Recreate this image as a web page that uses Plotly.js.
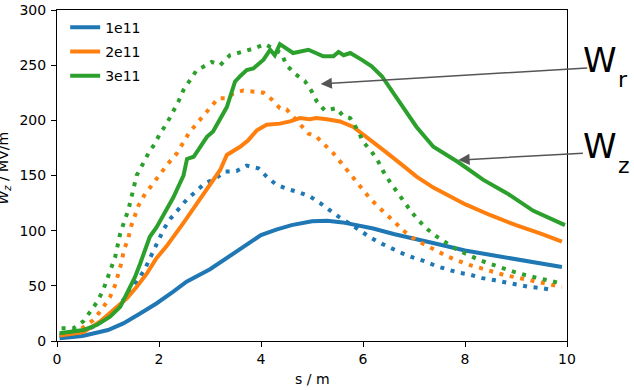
<!DOCTYPE html>
<html>
<head>
<meta charset="utf-8">
<script src="https://cdn.plot.ly/plotly-3.0.1.min.js"></script>
<style>html,body{margin:0;padding:0;background:#fff;}#chart{width:634px;height:390px;}</style>
</head>
<body>
<div id="chart"></div>
<script>
// ---- data (s in m, W in MV/m) ----
const legendLabels = ["1e11", "2e11", "3e11"];
const colors = ["#1f77b4", "#ff7f0e", "#2ca02c"];

// Wz (solid)
const sWz1 = [0.05,0.5,1,1.3,1.63,1.95,2.28,2.54,3,3.3,3.6,3.8,4,4.3,4.6,5,5.3,5.6,5.9,6.2,6.6,7,7.5,8,8.5,9,9.5,9.9];
const Wz1  = [2.5,4.5,10,16,25,34,44.7,53.7,65,74,83,90,96,101,105,108.5,109,107.5,105,102,97,93,87.5,82,78,74,70.5,67];

const sWz2 = [0.05,0.52,0.84,1.1,1.37,1.56,1.76,1.95,2.15,2.48,2.8,3.06,3.2,3.33,3.59,3.75,3.92,4.11,4.37,4.57,4.76,4.96,5.08,5.29,5.55,5.81,6.07,6.4,6.73,7.05,7.38,7.7,8,8.5,9,9.5,9.9];
const Wz2  = [5,8,17.5,28,38.7,49,61,75,86,107,128,146,155,168.6,176,182,191,196,197,199,202,201,202,201,199,194,185,173,161,149,139,131,124,114,105,97,90];

const sWz3 = [0.05,0.52,0.78,1.04,1.24,1.4,1.53,1.63,1.82,1.95,2.15,2.28,2.41,2.48,2.55,2.68,2.94,3.06,3.33,3.49,3.59,3.72,3.85,4.05,4.18,4.27,4.37,4.63,4.93,5.09,5.22,5.42,5.52,5.62,5.75,5.97,6.17,6.37,6.73,7.05,7.38,7.87,8.36,8.82,9.34,9.96];
const Wz3  = [7,10,14.5,22,31,45,58,70,94.5,103,120,130,143,150,165,167,185,190,212,235,240,245.6,247,255,264,259,269,261,264,261,258,258,262,259,261,255,249,240,215,194,176,162,146,134,118,105];

// Wr (dotted)
const sWr1 = [0.05,0.5,0.78,0.97,1.14,1.43,1.56,1.71,1.9,2.0,2.1,2.22,2.38,2.54,2.71,2.9,3.1,3.29,3.52,3.72,3.95,4.11,4.29,4.5,4.73,4.96,5.16,5.35,5.52,5.75,5.93,6.14,6.33,6.55,6.77,6.99,7.2,7.43,7.65,7.87,8.11,8.34,8.59,8.82,9.05,9.27,9.5,9.75];
const Wr1  = [5,8,14.5,20.5,28,44.7,53.7,64,82.5,92,102,110.6,119.6,128,135,143,147,153.5,154,159,156.5,149,142,138,135,131,125,118,112.7,106,100,94,89,84,79.5,75.5,72.5,68,65,62,60,57,55,53,51,49,48,46];

const sWr2 = [0.09,0.32,0.52,0.71,0.88,1.04,1.14,1.2,1.27,1.31,1.39,1.45,1.53,1.6,1.71,1.82,2.02,2.18,2.35,2.46,2.58,2.74,2.88,3.03,3.16,3.33,3.46,3.65,3.85,4.05,4.21,4.37,4.5,4.76,4.93,5.09,5.25,5.42,5.58,5.71,5.84,5.97,6.14,6.3,6.48,6.64,6.82,7.02,7.22,7.43,7.64,7.86,8.08,8.31,8.54,8.77,9.0,9.23,9.46,9.68,9.9];
const Wr2  = [6,7,12.4,19,28.7,40,50.8,61,72,82.5,91.5,103.6,112.7,123,132,139,152,161,170,179,188,197,205,213,220,220,224.5,227,226,225,219,211,210,197,188,185,177.6,170,161,153.5,146,138,129,121.7,114,106.6,99,92,87,81.8,77,72.8,69,66,62.8,59.8,57.7,55.3,53,50.8,49];

const sWr3 = [0.09,0.32,0.52,0.66,0.79,0.9,0.97,1.07,1.14,1.24,1.31,1.4,1.5,1.56,1.69,1.79,1.92,2.02,2.15,2.28,2.38,2.48,2.61,2.74,2.87,3.03,3.2,3.39,3.62,3.85,4.08,4.4,4.5,4.67,4.86,4.99,5.09,5.25,5.48,5.61,5.75,5.91,6.0,6.17,6.3,6.4,6.53,6.67,6.8,6.95,7.1,7.27,7.45,7.64,7.85,8.07,8.28,8.5,8.72,8.95,9.18,9.4,9.63,9.88];
const Wr3  = [11.5,11.5,18,26.6,35.6,45.6,55,66,76,97.6,108,119,138,150,161,170,179,188,197,208,217,227.5,236.6,245.6,248.6,253,250,259,262,265,269,260.7,250,242,235.6,226.6,217.5,209,211,204,202,190,180.6,171.6,162.5,153.5,144,135,126,117,108.8,101,94.5,88.5,82.5,78,73.4,69.8,66,62.8,59.8,57.4,55.3,52.3];

const xTicks = [0, 2, 4, 6, 8, 10];
const yTicks = [0, 50, 100, 150, 200, 250, 300];

// ---- traces ----
const solidS = [sWz1, sWz2, sWz3], solidW = [Wz1, Wz2, Wz3];
const dotS = [sWr1, sWr2, sWr3], dotW = [Wr1, Wr2, Wr3];
const traces = [];
for (let i = 0; i < 3; i++) {
  traces.push({x: solidS[i], y: solidW[i], type: "scatter", mode: "lines", name: legendLabels[i],
    legendgroup: "g" + i, line: {color: colors[i], width: 4}, showlegend: true});
  traces.push({x: dotS[i], y: dotW[i], type: "scatter", mode: "lines", name: legendLabels[i] + " Wr",
    legendgroup: "g" + i, line: {color: colors[i], width: 4, dash: "4px,6.6px"}, showlegend: false});
}

const FONT = "DejaVu Sans";
const layout = {
  width: 634, height: 390,
  margin: {l: 57, r: 67, t: 10, b: 49, pad: 0},
  paper_bgcolor: "#fff", plot_bgcolor: "#fff",
  font: {family: FONT, size: 14, color: "#000"},
  showlegend: true,
  legend: {x: 0.016, y: 0.995, xanchor: "left", yanchor: "top", bgcolor: "rgba(0,0,0,0)",
    borderwidth: 0, tracegroupgap: 3, font: {family: FONT, size: 14, color: "#000"}},
  xaxis: {range: [0, 10], tickvals: xTicks, ticktext: xTicks.map(String), showgrid: false, zeroline: false,
    showline: true, mirror: true, linecolor: "#000", linewidth: 1,
    ticks: "outside", ticklen: 5, tickwidth: 1, tickcolor: "#000",
    tickfont: {family: FONT, size: 14, color: "#000"}},
  yaxis: {range: [0, 300], tickvals: yTicks, ticktext: yTicks.map(String), showgrid: false, zeroline: false,
    showline: true, mirror: true, linecolor: "#000", linewidth: 1,
    ticks: "outside", ticklen: 5, tickwidth: 1, tickcolor: "#000", ticklabelstandoff: 2,
    tickfont: {family: FONT, size: 14, color: "#000"}},
  annotations: [
    {xref: "paper", yref: "paper", x: 0.5, y: -0.115, xanchor: "center", yanchor: "middle",
      text: "s / m", showarrow: false, font: {family: FONT, size: 14, color: "#000"}},
    {xref: "paper", yref: "paper", x: -0.104, y: 0.524, xanchor: "center", yanchor: "middle",
      textangle: -90, text: "<i>W</i><sub><i>z</i></sub> / MV/m", showarrow: false,
      font: {family: FONT, size: 14, color: "#000"}},
    // arrows
    {xref: "x", yref: "y", x: 5.17, y: 233, ax: 268, ay: -16, text: "", showarrow: true,
      arrowhead: 2, arrowsize: 1.5, arrowwidth: 1.5, arrowcolor: "#555"},
    {xref: "x", yref: "y", x: 7.87, y: 164, ax: 126, ay: -7, text: "", showarrow: true,
      arrowhead: 2, arrowsize: 1.5, arrowwidth: 1.5, arrowcolor: "#555"},
    // labels W_r, W_z (main letter + lowered subscript)
    {xref: "paper", yref: "paper", x: 1.0275, y: 0.848, xanchor: "left", yanchor: "middle",
      text: "W", showarrow: false, font: {family: FONT, size: 34, color: "#000"}},
    {xref: "paper", yref: "paper", x: 1.096, y: 0.790, xanchor: "left", yanchor: "middle",
      text: "r", showarrow: false, font: {family: FONT, size: 22, color: "#000"}},
    {xref: "paper", yref: "paper", x: 1.0275, y: 0.5885, xanchor: "left", yanchor: "middle",
      text: "W", showarrow: false, font: {family: FONT, size: 34, color: "#000"}},
    {xref: "paper", yref: "paper", x: 1.096, y: 0.5305, xanchor: "left", yanchor: "middle",
      text: "z", showarrow: false, font: {family: FONT, size: 22, color: "#000"}}
  ]
};

Plotly.newPlot("chart", traces, layout, {staticPlot: true, displayModeBar: false});
</script>
</body>
</html>
